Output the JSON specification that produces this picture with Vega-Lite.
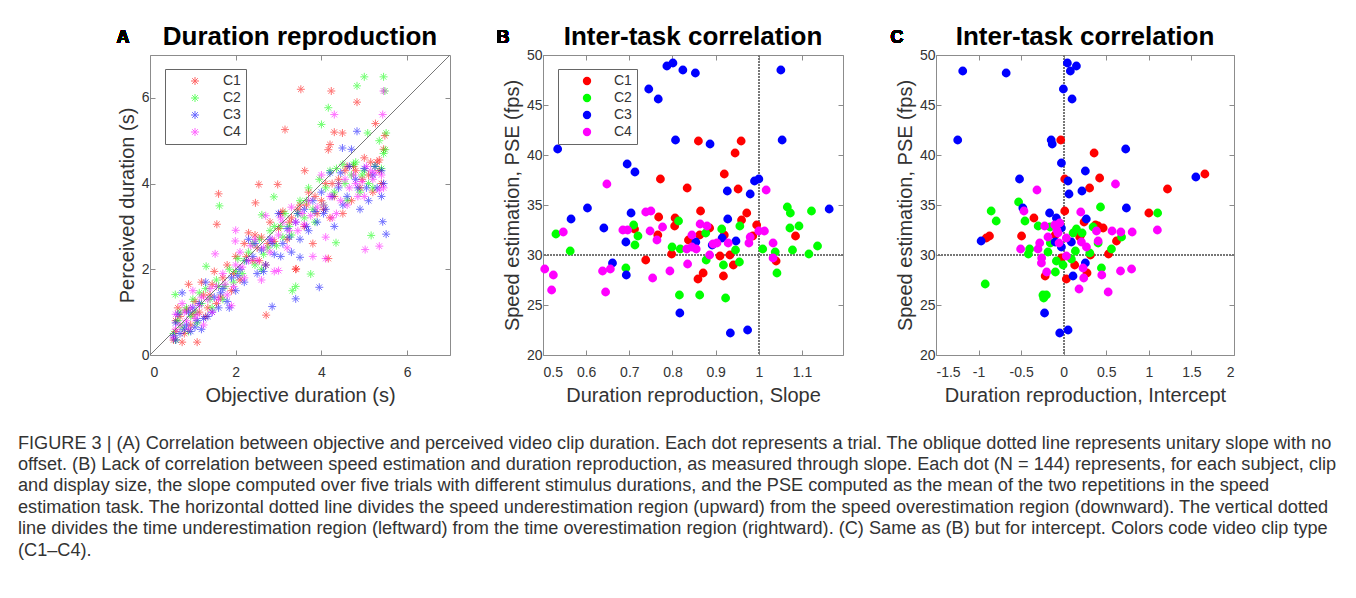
{
"$schema": "https://vega.github.io/schema/vega-lite/v6.json",
"padding": {"left": 18, "top": 23, "right": 5, "bottom": 5},
"background": "white",
"title": {
  "text": [
    "FIGURE 3 | (A) Correlation between objective and perceived video clip duration. Each dot represents a trial. The oblique dotted line represents unitary slope with no",
    "offset. (B) Lack of correlation between speed estimation and duration reproduction, as measured through slope. Each dot (N = 144) represents, for each subject, clip",
    "and display size, the slope computed over five trials with different stimulus durations, and the PSE computed as the mean of the two repetitions in the speed",
    "estimation task. The horizontal dotted line divides the speed underestimation region (upward) from the speed overestimation region (downward). The vertical dotted",
    "line divides the time underestimation region (leftward) from the time overestimation region (rightward). (C) Same as (B) but for intercept. Colors code video clip type",
    "(C1–C4)."
  ],
  "orient": "bottom", "anchor": "start", "frame": "bounds", "dx": -98, "offset": 29,
  "fontSize": 18.15, "fontWeight": "normal", "font": "Liberation Sans", "color": "#333333",
  "lineHeight": 21.4, "baseline": "top"
},
"datasets": {
  "dur": [
    {"clip":"C1","obj":0.55,"perc":0.35},{"clip":"C1","obj":0.6,"perc":0.55},{"clip":"C1","obj":0.7,"perc":0.9},{"clip":"C1","obj":0.75,"perc":0.3},{"clip":"C1","obj":0.85,"perc":1.05},{"clip":"C1","obj":0.9,"perc":1.65},{"clip":"C1","obj":0.95,"perc":0.7},{"clip":"C1","obj":1.05,"perc":1.25},{"clip":"C1","obj":1.1,"perc":0.3},{"clip":"C1","obj":1.15,"perc":1.0},{"clip":"C1","obj":1.2,"perc":1.7},{"clip":"C1","obj":1.3,"perc":0.9},{"clip":"C1","obj":1.4,"perc":1.4},{"clip":"C1","obj":1.5,"perc":1.95},{"clip":"C1","obj":1.55,"perc":1.2},{"clip":"C1","obj":1.65,"perc":1.35},{"clip":"C1","obj":1.8,"perc":2.1},{"clip":"C1","obj":1.9,"perc":1.5},{"clip":"C1","obj":2.0,"perc":2.3},{"clip":"C1","obj":2.1,"perc":1.75},{"clip":"C1","obj":2.2,"perc":2.6},{"clip":"C1","obj":2.3,"perc":2.85},{"clip":"C1","obj":2.4,"perc":2.2},{"clip":"C1","obj":2.5,"perc":2.5},{"clip":"C1","obj":2.6,"perc":2.75},{"clip":"C1","obj":2.7,"perc":2.1},{"clip":"C1","obj":2.8,"perc":3.1},{"clip":"C1","obj":2.9,"perc":2.65},{"clip":"C1","obj":3.0,"perc":2.95},{"clip":"C1","obj":3.1,"perc":3.35},{"clip":"C1","obj":3.2,"perc":2.7},{"clip":"C1","obj":3.3,"perc":3.2},{"clip":"C1","obj":3.4,"perc":2.0},{"clip":"C1","obj":3.5,"perc":3.5},{"clip":"C1","obj":3.6,"perc":3.0},{"clip":"C1","obj":3.7,"perc":3.8},{"clip":"C1","obj":3.8,"perc":2.6},{"clip":"C1","obj":3.9,"perc":3.3},{"clip":"C1","obj":4.0,"perc":3.6},{"clip":"C1","obj":4.1,"perc":4.0},{"clip":"C1","obj":4.2,"perc":3.2},{"clip":"C1","obj":4.3,"perc":3.7},{"clip":"C1","obj":4.4,"perc":4.1},{"clip":"C1","obj":4.5,"perc":3.3},{"clip":"C1","obj":4.6,"perc":4.4},{"clip":"C1","obj":4.7,"perc":3.6},{"clip":"C1","obj":4.8,"perc":4.3},{"clip":"C1","obj":4.9,"perc":3.9},{"clip":"C1","obj":5.0,"perc":4.6},{"clip":"C1","obj":5.1,"perc":4.2},{"clip":"C1","obj":5.2,"perc":3.8},{"clip":"C1","obj":5.3,"perc":4.5},{"clip":"C1","obj":5.4,"perc":4.0},
    {"clip":"C1","obj":0.6,"perc":0.8},{"clip":"C1","obj":0.65,"perc":1.1},{"clip":"C1","obj":0.8,"perc":0.5},{"clip":"C1","obj":1.0,"perc":0.95},{"clip":"C1","obj":1.25,"perc":1.4},{"clip":"C1","obj":1.35,"perc":1.1},{"clip":"C1","obj":1.45,"perc":1.65},{"clip":"C1","obj":1.7,"perc":1.8},{"clip":"C1","obj":1.95,"perc":1.9},{"clip":"C1","obj":2.25,"perc":2.3},{"clip":"C1","obj":2.45,"perc":2.8},{"clip":"C1","obj":2.55,"perc":2.2},{"clip":"C1","obj":2.75,"perc":2.6},{"clip":"C1","obj":3.05,"perc":3.3},{"clip":"C1","obj":3.25,"perc":3.1},{"clip":"C1","obj":3.45,"perc":3.4},{"clip":"C1","obj":3.65,"perc":3.5},{"clip":"C1","obj":3.85,"perc":3.7},{"clip":"C1","obj":4.05,"perc":3.4},{"clip":"C1","obj":4.25,"perc":4.0},{"clip":"C1","obj":4.55,"perc":4.3},{"clip":"C1","obj":4.75,"perc":4.4},{"clip":"C1","obj":4.95,"perc":4.1},{"clip":"C1","obj":5.15,"perc":4.5},{"clip":"C1","obj":5.35,"perc":4.3},{"clip":"C1","obj":5.45,"perc":4.8},
    {"clip":"C1","obj":3.52,"perc":6.2},{"clip":"C1","obj":4.23,"perc":6.16},{"clip":"C1","obj":4.83,"perc":5.9},{"clip":"C1","obj":3.15,"perc":5.26},{"clip":"C1","obj":4.3,"perc":5.2},{"clip":"C1","obj":4.49,"perc":5.18},{"clip":"C1","obj":4.16,"perc":4.79},{"clip":"C1","obj":4.2,"perc":4.91},{"clip":"C1","obj":1.6,"perc":3.76},{"clip":"C1","obj":1.56,"perc":3.05},{"clip":"C1","obj":2.54,"perc":3.98},{"clip":"C1","obj":2.98,"perc":3.98},{"clip":"C1","obj":2.46,"perc":3.55},{"clip":"C1","obj":3.61,"perc":4.3},{"clip":"C1","obj":3.41,"perc":2.01},{"clip":"C1","obj":4.16,"perc":2.25},{"clip":"C1","obj":2.71,"perc":0.93},{"clip":"C1","obj":5.26,"perc":5.4},{"clip":"C1","obj":5.48,"perc":5.12},{"clip":"C1","obj":5.35,"perc":4.55},
    {"clip":"C2","obj":0.55,"perc":0.5},{"clip":"C2","obj":0.65,"perc":0.8},{"clip":"C2","obj":0.75,"perc":0.65},{"clip":"C2","obj":0.85,"perc":1.1},{"clip":"C2","obj":0.95,"perc":0.9},{"clip":"C2","obj":1.0,"perc":1.3},{"clip":"C2","obj":1.1,"perc":0.75},{"clip":"C2","obj":1.2,"perc":1.2},{"clip":"C2","obj":1.3,"perc":1.55},{"clip":"C2","obj":1.45,"perc":1.1},{"clip":"C2","obj":1.6,"perc":1.6},{"clip":"C2","obj":1.7,"perc":1.3},{"clip":"C2","obj":1.85,"perc":2.0},{"clip":"C2","obj":1.95,"perc":1.7},{"clip":"C2","obj":2.05,"perc":2.25},{"clip":"C2","obj":2.15,"perc":1.9},{"clip":"C2","obj":2.3,"perc":2.4},{"clip":"C2","obj":2.45,"perc":2.1},{"clip":"C2","obj":2.55,"perc":2.7},{"clip":"C2","obj":2.65,"perc":2.35},{"clip":"C2","obj":2.8,"perc":2.9},{"clip":"C2","obj":2.95,"perc":2.55},{"clip":"C2","obj":3.05,"perc":3.0},{"clip":"C2","obj":3.15,"perc":3.3},{"clip":"C2","obj":3.3,"perc":2.8},{"clip":"C2","obj":3.4,"perc":1.6},{"clip":"C2","obj":3.5,"perc":3.6},{"clip":"C2","obj":3.6,"perc":3.2},{"clip":"C2","obj":3.7,"perc":3.9},{"clip":"C2","obj":3.8,"perc":3.4},{"clip":"C2","obj":3.95,"perc":4.1},{"clip":"C2","obj":4.05,"perc":3.5},{"clip":"C2","obj":4.2,"perc":4.3},{"clip":"C2","obj":4.3,"perc":3.8},{"clip":"C2","obj":4.4,"perc":4.0},{"clip":"C2","obj":4.5,"perc":4.45},{"clip":"C2","obj":4.6,"perc":3.6},{"clip":"C2","obj":4.7,"perc":4.2},{"clip":"C2","obj":4.8,"perc":4.5},{"clip":"C2","obj":4.9,"perc":3.8},{"clip":"C2","obj":5.0,"perc":4.3},{"clip":"C2","obj":5.1,"perc":4.0},{"clip":"C2","obj":5.25,"perc":4.4},{"clip":"C2","obj":5.35,"perc":5.0},{"clip":"C2","obj":5.45,"perc":4.7},
    {"clip":"C2","obj":0.6,"perc":0.35},{"clip":"C2","obj":0.7,"perc":1.0},{"clip":"C2","obj":0.9,"perc":0.55},{"clip":"C2","obj":1.05,"perc":1.0},{"clip":"C2","obj":1.15,"perc":1.45},{"clip":"C2","obj":1.4,"perc":1.3},{"clip":"C2","obj":1.55,"perc":1.75},{"clip":"C2","obj":1.75,"perc":1.6},{"clip":"C2","obj":2.0,"perc":1.95},{"clip":"C2","obj":2.2,"perc":2.2},{"clip":"C2","obj":2.4,"perc":2.6},{"clip":"C2","obj":2.6,"perc":2.0},{"clip":"C2","obj":2.75,"perc":2.5},{"clip":"C2","obj":2.9,"perc":3.0},{"clip":"C2","obj":3.1,"perc":2.75},{"clip":"C2","obj":3.25,"perc":3.0},{"clip":"C2","obj":3.45,"perc":3.3},{"clip":"C2","obj":3.65,"perc":3.6},{"clip":"C2","obj":3.85,"perc":3.1},{"clip":"C2","obj":4.1,"perc":3.9},{"clip":"C2","obj":4.35,"perc":4.35},{"clip":"C2","obj":4.55,"perc":4.0},{"clip":"C2","obj":4.75,"perc":4.45},{"clip":"C2","obj":4.95,"perc":4.2},{"clip":"C2","obj":5.2,"perc":3.9},{"clip":"C2","obj":5.4,"perc":4.35},
    {"clip":"C2","obj":5.0,"perc":6.49},{"clip":"C2","obj":5.45,"perc":6.49},{"clip":"C2","obj":4.83,"perc":6.28},{"clip":"C2","obj":5.48,"perc":6.16},{"clip":"C2","obj":4.16,"perc":5.77},{"clip":"C2","obj":4.0,"perc":5.38},{"clip":"C2","obj":1.62,"perc":3.48},{"clip":"C2","obj":1.31,"perc":2.07},{"clip":"C2","obj":0.59,"perc":1.41},{"clip":"C2","obj":2.89,"perc":3.69},{"clip":"C2","obj":2.61,"perc":3.27},{"clip":"C2","obj":3.75,"perc":1.89},{"clip":"C2","obj":3.32,"perc":1.5},{"clip":"C2","obj":5.16,"perc":2.79},{"clip":"C2","obj":5.49,"perc":4.79},{"clip":"C2","obj":5.51,"perc":5.18},{"clip":"C2","obj":5.08,"perc":5.18},{"clip":"C2","obj":4.34,"perc":2.62},
    {"clip":"C3","obj":0.55,"perc":0.45},{"clip":"C3","obj":0.6,"perc":0.75},{"clip":"C3","obj":0.7,"perc":0.5},{"clip":"C3","obj":0.75,"perc":1.45},{"clip":"C3","obj":0.85,"perc":0.7},{"clip":"C3","obj":0.95,"perc":0.55},{"clip":"C3","obj":1.0,"perc":1.1},{"clip":"C3","obj":1.1,"perc":0.8},{"clip":"C3","obj":1.2,"perc":0.6},{"clip":"C3","obj":1.3,"perc":1.7},{"clip":"C3","obj":1.35,"perc":0.9},{"clip":"C3","obj":1.5,"perc":1.35},{"clip":"C3","obj":1.6,"perc":1.1},{"clip":"C3","obj":1.7,"perc":1.55},{"clip":"C3","obj":1.8,"perc":1.25},{"clip":"C3","obj":1.9,"perc":1.8},{"clip":"C3","obj":2.0,"perc":1.5},{"clip":"C3","obj":2.1,"perc":2.0},{"clip":"C3","obj":2.2,"perc":1.7},{"clip":"C3","obj":2.3,"perc":2.7},{"clip":"C3","obj":2.4,"perc":2.3},{"clip":"C3","obj":2.5,"perc":1.9},{"clip":"C3","obj":2.6,"perc":2.45},{"clip":"C3","obj":2.7,"perc":2.1},{"clip":"C3","obj":2.8,"perc":2.7},{"clip":"C3","obj":2.9,"perc":2.35},{"clip":"C3","obj":3.0,"perc":3.3},{"clip":"C3","obj":3.1,"perc":2.6},{"clip":"C3","obj":3.2,"perc":2.95},{"clip":"C3","obj":3.3,"perc":2.4},{"clip":"C3","obj":3.4,"perc":3.1},{"clip":"C3","obj":3.5,"perc":2.7},{"clip":"C3","obj":3.6,"perc":3.4},{"clip":"C3","obj":3.7,"perc":2.9},{"clip":"C3","obj":3.8,"perc":3.6},{"clip":"C3","obj":3.9,"perc":3.1},{"clip":"C3","obj":4.0,"perc":3.8},{"clip":"C3","obj":4.1,"perc":3.4},{"clip":"C3","obj":4.2,"perc":4.25},{"clip":"C3","obj":4.3,"perc":3.0},{"clip":"C3","obj":4.4,"perc":3.9},{"clip":"C3","obj":4.5,"perc":3.5},{"clip":"C3","obj":4.6,"perc":3.7},{"clip":"C3","obj":4.7,"perc":4.8},{"clip":"C3","obj":4.8,"perc":4.1},{"clip":"C3","obj":4.9,"perc":3.4},{"clip":"C3","obj":5.0,"perc":4.35},{"clip":"C3","obj":5.1,"perc":3.6},{"clip":"C3","obj":5.2,"perc":4.2},{"clip":"C3","obj":5.3,"perc":3.9},{"clip":"C3","obj":5.4,"perc":4.3},{"clip":"C3","obj":5.45,"perc":4.0},
    {"clip":"C3","obj":0.6,"perc":0.35},{"clip":"C3","obj":0.65,"perc":0.95},{"clip":"C3","obj":0.8,"perc":0.6},{"clip":"C3","obj":0.9,"perc":1.0},{"clip":"C3","obj":1.05,"perc":0.65},{"clip":"C3","obj":1.15,"perc":1.2},{"clip":"C3","obj":1.25,"perc":0.85},{"clip":"C3","obj":1.45,"perc":1.0},{"clip":"C3","obj":1.65,"perc":1.45},{"clip":"C3","obj":1.85,"perc":1.1},{"clip":"C3","obj":2.05,"perc":1.85},{"clip":"C3","obj":2.25,"perc":2.2},{"clip":"C3","obj":2.45,"perc":2.6},{"clip":"C3","obj":2.65,"perc":1.95},{"clip":"C3","obj":2.85,"perc":2.6},{"clip":"C3","obj":3.05,"perc":2.3},{"clip":"C3","obj":3.25,"perc":2.75},{"clip":"C3","obj":3.45,"perc":3.3},{"clip":"C3","obj":3.65,"perc":3.0},{"clip":"C3","obj":3.85,"perc":3.35},{"clip":"C3","obj":4.05,"perc":3.3},{"clip":"C3","obj":4.25,"perc":3.7},{"clip":"C3","obj":4.45,"perc":4.25},{"clip":"C3","obj":4.65,"perc":4.4},{"clip":"C3","obj":4.85,"perc":3.9},{"clip":"C3","obj":5.05,"perc":3.9},{"clip":"C3","obj":5.25,"perc":4.4},{"clip":"C3","obj":5.4,"perc":3.7},
    {"clip":"C3","obj":3.95,"perc":1.58},{"clip":"C3","obj":3.4,"perc":1.31},{"clip":"C3","obj":2.85,"perc":1.13},{"clip":"C3","obj":5.43,"perc":3.11},{"clip":"C3","obj":5.51,"perc":2.82},{"clip":"C3","obj":4.83,"perc":5.22},{"clip":"C3","obj":4.49,"perc":4.83},{"clip":"C3","obj":3.5,"perc":2.28},
    {"clip":"C4","obj":0.55,"perc":0.4},{"clip":"C4","obj":0.6,"perc":0.95},{"clip":"C4","obj":0.7,"perc":0.7},{"clip":"C4","obj":0.8,"perc":1.0},{"clip":"C4","obj":0.9,"perc":0.6},{"clip":"C4","obj":1.0,"perc":1.5},{"clip":"C4","obj":1.05,"perc":0.85},{"clip":"C4","obj":1.15,"perc":1.15},{"clip":"C4","obj":1.25,"perc":0.7},{"clip":"C4","obj":1.35,"perc":1.3},{"clip":"C4","obj":1.45,"perc":1.0},{"clip":"C4","obj":1.55,"perc":1.6},{"clip":"C4","obj":1.7,"perc":1.9},{"clip":"C4","obj":1.8,"perc":1.4},{"clip":"C4","obj":1.9,"perc":1.15},{"clip":"C4","obj":2.0,"perc":2.1},{"clip":"C4","obj":2.1,"perc":2.4},{"clip":"C4","obj":2.2,"perc":1.8},{"clip":"C4","obj":2.35,"perc":2.55},{"clip":"C4","obj":2.5,"perc":2.2},{"clip":"C4","obj":2.6,"perc":1.75},{"clip":"C4","obj":2.7,"perc":3.25},{"clip":"C4","obj":2.8,"perc":2.4},{"clip":"C4","obj":2.9,"perc":1.95},{"clip":"C4","obj":3.0,"perc":2.8},{"clip":"C4","obj":3.1,"perc":3.1},{"clip":"C4","obj":3.2,"perc":2.5},{"clip":"C4","obj":3.3,"perc":3.45},{"clip":"C4","obj":3.45,"perc":2.9},{"clip":"C4","obj":3.55,"perc":3.3},{"clip":"C4","obj":3.7,"perc":3.6},{"clip":"C4","obj":3.8,"perc":2.3},{"clip":"C4","obj":3.9,"perc":3.45},{"clip":"C4","obj":4.0,"perc":4.2},{"clip":"C4","obj":4.1,"perc":2.75},{"clip":"C4","obj":4.2,"perc":3.7},{"clip":"C4","obj":4.35,"perc":3.3},{"clip":"C4","obj":4.45,"perc":3.6},{"clip":"C4","obj":4.55,"perc":4.1},{"clip":"C4","obj":4.65,"perc":3.9},{"clip":"C4","obj":4.75,"perc":4.2},{"clip":"C4","obj":4.85,"perc":3.7},{"clip":"C4","obj":4.95,"perc":4.05},{"clip":"C4","obj":5.05,"perc":4.4},{"clip":"C4","obj":5.15,"perc":4.3},{"clip":"C4","obj":5.25,"perc":4.25},{"clip":"C4","obj":5.35,"perc":3.85},{"clip":"C4","obj":5.45,"perc":3.9},
    {"clip":"C4","obj":0.6,"perc":0.6},{"clip":"C4","obj":0.75,"perc":1.2},{"clip":"C4","obj":0.85,"perc":0.8},{"clip":"C4","obj":0.95,"perc":1.1},{"clip":"C4","obj":1.1,"perc":0.95},{"clip":"C4","obj":1.2,"perc":1.35},{"clip":"C4","obj":1.4,"perc":1.55},{"clip":"C4","obj":1.6,"perc":1.3},{"clip":"C4","obj":1.75,"perc":1.65},{"clip":"C4","obj":1.95,"perc":1.6},{"clip":"C4","obj":2.15,"perc":2.05},{"clip":"C4","obj":2.3,"perc":2.2},{"clip":"C4","obj":2.45,"perc":2.7},{"clip":"C4","obj":2.65,"perc":2.5},{"clip":"C4","obj":2.85,"perc":2.7},{"clip":"C4","obj":3.05,"perc":3.2},{"clip":"C4","obj":3.25,"perc":2.9},{"clip":"C4","obj":3.4,"perc":3.1},{"clip":"C4","obj":3.6,"perc":3.05},{"clip":"C4","obj":3.75,"perc":3.25},{"clip":"C4","obj":4.05,"perc":3.5},{"clip":"C4","obj":4.25,"perc":3.2},{"clip":"C4","obj":4.4,"perc":4.0},{"clip":"C4","obj":4.6,"perc":3.5},{"clip":"C4","obj":4.8,"perc":4.0},{"clip":"C4","obj":5.0,"perc":3.7},{"clip":"C4","obj":5.2,"perc":4.1},{"clip":"C4","obj":5.4,"perc":4.2},
    {"clip":"C4","obj":5.43,"perc":5.61},{"clip":"C4","obj":4.3,"perc":5.61},{"clip":"C4","obj":5.45,"perc":6.16},{"clip":"C4","obj":5.35,"perc":2.54},{"clip":"C4","obj":5.02,"perc":2.46},{"clip":"C4","obj":4.1,"perc":2.25},{"clip":"C4","obj":1.52,"perc":2.36},{"clip":"C4","obj":2.0,"perc":2.91},{"clip":"C4","obj":1.99,"perc":2.66},{"clip":"C4","obj":3.0,"perc":1.97}
  ],
  "slope": [
    {"clip":"C1","slope":0.860,"pse":41.4},{"clip":"C1","slope":0.959,"pse":41.4},{"clip":"C1","slope":0.945,"pse":40.2},{"clip":"C1","slope":0.920,"pse":38.1},{"clip":"C1","slope":0.772,"pse":37.6},{"clip":"C1","slope":0.834,"pse":36.7},{"clip":"C1","slope":0.952,"pse":36.6},{"clip":"C1","slope":0.865,"pse":34.4},{"clip":"C1","slope":0.972,"pse":34.2},{"clip":"C1","slope":0.768,"pse":33.8},{"clip":"C1","slope":0.806,"pse":33.7},{"clip":"C1","slope":0.805,"pse":32.9},{"clip":"C1","slope":0.960,"pse":33.5},{"clip":"C1","slope":0.995,"pse":33.0},{"clip":"C1","slope":0.766,"pse":32.0},{"clip":"C1","slope":0.837,"pse":31.5},{"clip":"C1","slope":0.863,"pse":32.0},{"clip":"C1","slope":0.886,"pse":32.7},{"clip":"C1","slope":0.986,"pse":31.9},{"clip":"C1","slope":1.085,"pse":31.9},{"clip":"C1","slope":0.738,"pse":29.5},{"clip":"C1","slope":0.798,"pse":30.1},{"clip":"C1","slope":0.910,"pse":29.9},{"clip":"C1","slope":0.933,"pse":30.0},{"clip":"C1","slope":0.941,"pse":29.0},{"clip":"C1","slope":0.918,"pse":27.9},{"clip":"C1","slope":0.871,"pse":28.2},{"clip":"C1","slope":0.859,"pse":27.6},{"clip":"C1","slope":1.040,"pse":29.4},{"clip":"C1","slope":0.712,"pse":32.6},{"clip":"C1","slope":0.920,"pse":32.0},
    {"clip":"C2","slope":0.530,"pse":32.1},{"clip":"C2","slope":0.563,"pse":30.4},{"clip":"C2","slope":0.710,"pse":33.0},{"clip":"C2","slope":0.720,"pse":31.9},{"clip":"C2","slope":0.713,"pse":31.0},{"clip":"C2","slope":0.692,"pse":28.7},{"clip":"C2","slope":0.814,"pse":33.4},{"clip":"C2","slope":0.799,"pse":30.8},{"clip":"C2","slope":0.818,"pse":30.6},{"clip":"C2","slope":0.877,"pse":32.2},{"clip":"C2","slope":0.878,"pse":29.5},{"clip":"C2","slope":0.816,"pse":26.0},{"clip":"C2","slope":0.863,"pse":26.0},{"clip":"C2","slope":0.923,"pse":25.7},{"clip":"C2","slope":0.914,"pse":32.6},{"clip":"C2","slope":0.918,"pse":29.0},{"clip":"C2","slope":0.946,"pse":30.5},{"clip":"C2","slope":0.955,"pse":29.3},{"clip":"C2","slope":0.956,"pse":32.9},{"clip":"C2","slope":1.066,"pse":34.8},{"clip":"C2","slope":1.073,"pse":34.2},{"clip":"C2","slope":1.072,"pse":32.7},{"clip":"C2","slope":1.093,"pse":32.9},{"clip":"C2","slope":1.122,"pse":34.4},{"clip":"C2","slope":1.078,"pse":30.5},{"clip":"C2","slope":1.136,"pse":30.9},{"clip":"C2","slope":1.116,"pse":30.1},{"clip":"C2","slope":1.009,"pse":30.6},{"clip":"C2","slope":1.038,"pse":30.3},{"clip":"C2","slope":1.042,"pse":28.2},
    {"clip":"C3","slope":0.534,"pse":40.6},{"clip":"C3","slope":0.787,"pse":48.9},{"clip":"C3","slope":0.801,"pse":49.2},{"clip":"C3","slope":0.824,"pse":48.5},{"clip":"C3","slope":0.853,"pse":48.2},{"clip":"C3","slope":0.745,"pse":46.6},{"clip":"C3","slope":0.767,"pse":45.6},{"clip":"C3","slope":0.807,"pse":41.5},{"clip":"C3","slope":0.887,"pse":41.1},{"clip":"C3","slope":1.051,"pse":48.5},{"clip":"C3","slope":1.054,"pse":41.5},{"clip":"C3","slope":0.695,"pse":39.1},{"clip":"C3","slope":0.713,"pse":38.3},{"clip":"C3","slope":0.927,"pse":36.4},{"clip":"C3","slope":0.980,"pse":36.1},{"clip":"C3","slope":0.990,"pse":37.4},{"clip":"C3","slope":1.0,"pse":37.6},{"clip":"C3","slope":0.603,"pse":34.7},{"clip":"C3","slope":0.565,"pse":33.6},{"clip":"C3","slope":0.704,"pse":34.2},{"clip":"C3","slope":0.641,"pse":32.7},{"clip":"C3","slope":0.692,"pse":31.3},{"clip":"C3","slope":0.661,"pse":29.2},{"clip":"C3","slope":0.693,"pse":28.0},{"clip":"C3","slope":0.928,"pse":33.6},{"clip":"C3","slope":0.854,"pse":31.3},{"clip":"C3","slope":0.915,"pse":31.7},{"clip":"C3","slope":0.947,"pse":31.4},{"clip":"C3","slope":0.892,"pse":31.0},{"clip":"C3","slope":0.817,"pse":24.2},{"clip":"C3","slope":0.934,"pse":22.2},{"clip":"C3","slope":0.974,"pse":22.5},{"clip":"C3","slope":1.163,"pse":34.6},
    {"clip":"C4","slope":0.504,"pse":28.6},{"clip":"C4","slope":0.524,"pse":28.0},{"clip":"C4","slope":0.520,"pse":26.5},{"clip":"C4","slope":0.547,"pse":32.3},{"clip":"C4","slope":0.648,"pse":37.1},{"clip":"C4","slope":0.638,"pse":28.4},{"clip":"C4","slope":0.656,"pse":28.6},{"clip":"C4","slope":0.645,"pse":26.3},{"clip":"C4","slope":0.685,"pse":32.5},{"clip":"C4","slope":0.696,"pse":32.5},{"clip":"C4","slope":0.738,"pse":34.3},{"clip":"C4","slope":0.750,"pse":34.4},{"clip":"C4","slope":0.748,"pse":32.4},{"clip":"C4","slope":0.764,"pse":31.5},{"clip":"C4","slope":0.777,"pse":32.8},{"clip":"C4","slope":0.754,"pse":27.7},{"clip":"C4","slope":0.794,"pse":28.4},{"clip":"C4","slope":0.835,"pse":29.1},{"clip":"C4","slope":0.845,"pse":32.0},{"clip":"C4","slope":0.833,"pse":30.6},{"clip":"C4","slope":0.855,"pse":30.6},{"clip":"C4","slope":0.864,"pse":33.1},{"clip":"C4","slope":0.880,"pse":32.9},{"clip":"C4","slope":0.886,"pse":30.0},{"clip":"C4","slope":0.894,"pse":31.1},{"clip":"C4","slope":0.903,"pse":31.2},{"clip":"C4","slope":0.929,"pse":31.2},{"clip":"C4","slope":0.980,"pse":31.8},{"clip":"C4","slope":0.977,"pse":31.2},{"clip":"C4","slope":1.000,"pse":32.4},{"clip":"C4","slope":1.013,"pse":32.4},{"clip":"C4","slope":1.017,"pse":36.5},{"clip":"C4","slope":1.033,"pse":31.2},{"clip":"C4","slope":1.033,"pse":29.7},{"clip":"C4","slope":0.845,"pse":30.8}
  ],
  "intercept": [
    {"clip":"C1","intercept":-0.035,"pse":41.5},{"clip":"C1","intercept":0.357,"pse":40.2},{"clip":"C1","intercept":0.422,"pse":37.7},{"clip":"C1","intercept":0.304,"pse":36.7},{"clip":"C1","intercept":0.012,"pse":37.6},{"clip":"C1","intercept":1.219,"pse":36.6},{"clip":"C1","intercept":1.658,"pse":38.1},{"clip":"C1","intercept":1.0,"pse":34.2},{"clip":"C1","intercept":0.012,"pse":34.4},{"clip":"C1","intercept":-0.35,"pse":33.7},{"clip":"C1","intercept":0.404,"pse":32.9},{"clip":"C1","intercept":0.239,"pse":33.3},{"clip":"C1","intercept":0.373,"pse":33.0},{"clip":"C1","intercept":0.2,"pse":32.0},{"clip":"C1","intercept":-0.495,"pse":31.9},{"clip":"C1","intercept":-0.872,"pse":31.9},{"clip":"C1","intercept":-0.91,"pse":31.7},{"clip":"C1","intercept":0.62,"pse":31.4},{"clip":"C1","intercept":0.526,"pse":30.1},{"clip":"C1","intercept":0.314,"pse":30.0},{"clip":"C1","intercept":0.129,"pse":29.0},{"clip":"C1","intercept":-0.218,"pse":27.9},{"clip":"C1","intercept":0.031,"pse":27.6},{"clip":"C1","intercept":0.274,"pse":28.2},{"clip":"C1","intercept":-0.027,"pse":29.7},{"clip":"C1","intercept":0.188,"pse":31.8},{"clip":"C1","intercept":0.463,"pse":32.7},{"clip":"C1","intercept":-0.1,"pse":32.0},
    {"clip":"C2","intercept":-0.53,"pse":35.3},{"clip":"C2","intercept":-0.852,"pse":34.4},{"clip":"C2","intercept":-0.793,"pse":33.4},{"clip":"C2","intercept":-0.455,"pse":33.4},{"clip":"C2","intercept":-0.30,"pse":32.9},{"clip":"C2","intercept":-0.922,"pse":27.1},{"clip":"C2","intercept":-0.40,"pse":30.6},{"clip":"C2","intercept":-0.415,"pse":30.1},{"clip":"C2","intercept":-0.244,"pse":26.0},{"clip":"C2","intercept":-0.204,"pse":26.0},{"clip":"C2","intercept":-0.235,"pse":25.7},{"clip":"C2","intercept":-0.098,"pse":28.3},{"clip":"C2","intercept":-0.086,"pse":29.4},{"clip":"C2","intercept":-0.008,"pse":29.0},{"clip":"C2","intercept":0.09,"pse":29.6},{"clip":"C2","intercept":0.11,"pse":32.2},{"clip":"C2","intercept":0.149,"pse":32.6},{"clip":"C2","intercept":0.345,"pse":32.8},{"clip":"C2","intercept":0.306,"pse":30.2},{"clip":"C2","intercept":0.404,"pse":31.2},{"clip":"C2","intercept":0.432,"pse":34.8},{"clip":"C2","intercept":0.443,"pse":28.7},{"clip":"C2","intercept":0.561,"pse":30.6},{"clip":"C2","intercept":0.679,"pse":31.8},{"clip":"C2","intercept":1.103,"pse":34.2},{"clip":"C2","intercept":-0.185,"pse":30.3},{"clip":"C2","intercept":-0.157,"pse":31.2},{"clip":"C2","intercept":0.137,"pse":30.4},{"clip":"C2","intercept":0.216,"pse":32.2},{"clip":"C2","intercept":-0.16,"pse":32.8},
    {"clip":"C3","intercept":-1.186,"pse":48.4},{"clip":"C3","intercept":-0.676,"pse":48.2},{"clip":"C3","intercept":-1.245,"pse":41.5},{"clip":"C3","intercept":0.043,"pse":49.2},{"clip":"C3","intercept":0.078,"pse":48.4},{"clip":"C3","intercept":0.149,"pse":48.9},{"clip":"C3","intercept":-0.004,"pse":46.6},{"clip":"C3","intercept":0.098,"pse":45.6},{"clip":"C3","intercept":-0.147,"pse":41.5},{"clip":"C3","intercept":-0.135,"pse":41.1},{"clip":"C3","intercept":-0.027,"pse":39.2},{"clip":"C3","intercept":-0.519,"pse":37.6},{"clip":"C3","intercept":0.254,"pse":38.4},{"clip":"C3","intercept":0.05,"pse":37.4},{"clip":"C3","intercept":0.062,"pse":36.1},{"clip":"C3","intercept":0.214,"pse":36.4},{"clip":"C3","intercept":0.728,"pse":40.6},{"clip":"C3","intercept":1.552,"pse":37.8},{"clip":"C3","intercept":0.736,"pse":34.7},{"clip":"C3","intercept":-0.48,"pse":34.7},{"clip":"C3","intercept":-0.166,"pse":34.2},{"clip":"C3","intercept":-0.086,"pse":33.7},{"clip":"C3","intercept":0.265,"pse":33.6},{"clip":"C3","intercept":-0.027,"pse":32.7},{"clip":"C3","intercept":-0.97,"pse":31.4},{"clip":"C3","intercept":-0.10,"pse":31.3},{"clip":"C3","intercept":0.09,"pse":31.3},{"clip":"C3","intercept":-0.027,"pse":30.8},{"clip":"C3","intercept":0.254,"pse":29.2},{"clip":"C3","intercept":0.109,"pse":27.9},{"clip":"C3","intercept":-0.225,"pse":24.2},{"clip":"C3","intercept":-0.047,"pse":22.2},{"clip":"C3","intercept":0.051,"pse":22.5},
    {"clip":"C4","intercept":-0.314,"pse":36.5},{"clip":"C4","intercept":-0.467,"pse":34.4},{"clip":"C4","intercept":0.2,"pse":34.3},{"clip":"C4","intercept":-0.224,"pse":32.9},{"clip":"C4","intercept":-0.106,"pse":33.0},{"clip":"C4","intercept":-0.067,"pse":32.2},{"clip":"C4","intercept":-0.185,"pse":31.8},{"clip":"C4","intercept":-0.282,"pse":31.2},{"clip":"C4","intercept":-0.302,"pse":30.6},{"clip":"C4","intercept":-0.506,"pse":30.6},{"clip":"C4","intercept":-0.259,"pse":29.7},{"clip":"C4","intercept":-0.262,"pse":29.2},{"clip":"C4","intercept":-0.2,"pse":28.3},{"clip":"C4","intercept":-0.055,"pse":31.2},{"clip":"C4","intercept":0.031,"pse":31.7},{"clip":"C4","intercept":0.031,"pse":29.9},{"clip":"C4","intercept":0.208,"pse":31.3},{"clip":"C4","intercept":0.267,"pse":30.8},{"clip":"C4","intercept":0.227,"pse":28.7},{"clip":"C4","intercept":0.235,"pse":27.7},{"clip":"C4","intercept":0.18,"pse":26.6},{"clip":"C4","intercept":0.385,"pse":32.4},{"clip":"C4","intercept":0.404,"pse":31.4},{"clip":"C4","intercept":0.447,"pse":28.0},{"clip":"C4","intercept":0.522,"pse":26.3},{"clip":"C4","intercept":0.568,"pse":32.4},{"clip":"C4","intercept":0.671,"pse":32.3},{"clip":"C4","intercept":0.804,"pse":32.3},{"clip":"C4","intercept":0.667,"pse":28.4},{"clip":"C4","intercept":0.797,"pse":28.6},{"clip":"C4","intercept":1.10,"pse":32.5},{"clip":"C4","intercept":0.608,"pse":37.1},{"clip":"C4","intercept":-0.047,"pse":33.2},{"clip":"C4","intercept":-0.08,"pse":32.5}
  ]
},
"spacing": 93,
"bounds": "flush",
"hconcat": [
  {
    "width": 300, "height": 300,
    "title": {"text": "Duration reproduction"},
    "data": {"name": "dur"},
    "layer": [
      {
        "mark": {"type": "point", "shape": "M-1,0H1M0,-1V1M-0.7,-0.7L0.7,0.7M-0.7,0.7L0.7,-0.7", "filled": false, "size": 64, "strokeWidth": 1, "opacity": 0.55},
        "encoding": {
          "x": {"field": "obj", "type": "quantitative", "scale": {"domain": [0, 7], "nice": false, "zero": false}, "axis": {"orient": "bottom", "values": [0, 2, 4, 6], "title": "Objective duration (s)"}},
          "y": {"field": "perc", "type": "quantitative", "scale": {"domain": [0, 7], "nice": false, "zero": false}, "axis": {"orient": "left", "values": [0, 2, 4, 6], "title": "Perceived duration (s)"}},
          "color": {"field": "clip", "type": "nominal", "scale": {"domain": ["C1", "C2", "C3", "C4"], "range": ["#ff0000", "#00ff00", "#0000ff", "#ff00ff"]},
            "legend": {"title": null, "orient": "none", "legendX": 15, "legendY": 14, "symbolType": "M-1,0H1M0,-1V1M-0.7,-0.7L0.7,0.7M-0.7,0.7L0.7,-0.7", "symbolSize": 64, "symbolStrokeWidth": 1, "symbolOpacity": 0.6, "symbolOffset": 18, "labelOffset": 21}}
        }
      },
      {
        "mark": {"type": "rule", "color": "#777777", "strokeWidth": 0.8},
        "encoding": {
          "x": {"datum": 0, "scale": {"domain": [0, 7], "nice": false, "zero": false}, "axis": {"orient": "top", "values": [0, 2, 4, 6], "labels": false, "title": null}},
          "y": {"datum": 0, "scale": {"domain": [0, 7], "nice": false, "zero": false}, "axis": {"orient": "right", "values": [0, 2, 4, 6], "labels": false, "title": null}},
          "x2": {"datum": 7},
          "y2": {"datum": 7}
        }
      },
      {
        "mark": {"type": "text", "text": "A", "fontSize": 18, "fontWeight": "bold", "align": "center", "baseline": "middle", "dx": -27, "dy": -17, "color": "#000000"},
        "encoding": {
          "x": {"datum": 0, "scale": {"domain": [0, 7], "nice": false, "zero": false}, "axis": null},
          "y": {"datum": 7, "scale": {"domain": [0, 7], "nice": false, "zero": false}, "axis": null}
        }
      }
    ],
    "resolve": {"axis": {"x": "independent", "y": "independent"}}
  },
  {
    "width": 300, "height": 300,
    "title": {"text": "Inter-task correlation"},
    "data": {"name": "slope"},
    "layer": [
      {
        "mark": {"type": "rule", "color": "#777777", "strokeWidth": 0.8, "strokeDash": [1.5, 1.5]},
        "encoding": {
          "x": {"datum": 1, "scale": {"domain": [0.5, 1.195], "nice": false, "zero": false}, "axis": {"orient": "top", "values": [0.5, 0.6, 0.7, 0.8, 0.9, 1, 1.1], "labels": false, "title": null}}
        }
      },
      {
        "mark": {"type": "rule", "color": "#777777", "strokeWidth": 0.8, "strokeDash": [1.5, 1.5]},
        "encoding": {
          "y": {"datum": 30, "scale": {"domain": [20, 50], "nice": false, "zero": false}, "axis": {"orient": "right", "values": [20, 25, 30, 35, 40, 45, 50], "labels": false, "title": null}}
        }
      },
      {
        "mark": {"type": "circle", "size": 78, "opacity": 1},
        "encoding": {
          "x": {"field": "slope", "type": "quantitative", "scale": {"domain": [0.5, 1.195], "nice": false, "zero": false}, "axis": {"orient": "bottom", "values": [0.5, 0.6, 0.7, 0.8, 0.9, 1, 1.1], "format": "~g", "title": "Duration reproduction, Slope"}},
          "y": {"field": "pse", "type": "quantitative", "scale": {"domain": [20, 50], "nice": false, "zero": false}, "axis": {"orient": "left", "values": [20, 25, 30, 35, 40, 45, 50], "title": "Speed estimation, PSE (fps)"}},
          "color": {"field": "clip", "type": "nominal", "scale": {"domain": ["C1", "C2", "C3", "C4"], "range": ["#ff0000", "#00ff00", "#0000ff", "#ff00ff"]},
            "legend": {"title": null, "orient": "none", "legendX": 15, "legendY": 14, "symbolType": "circle", "symbolSize": 70, "symbolOpacity": 1, "symbolOffset": 17, "labelOffset": 20}}
        }
      },
      {
        "mark": {"type": "text", "text": "B", "fontSize": 18, "fontWeight": "bold", "align": "center", "baseline": "middle", "dx": -40, "dy": -17, "color": "#000000"},
        "encoding": {
          "x": {"datum": 0.5, "scale": {"domain": [0.5, 1.195], "nice": false, "zero": false}, "axis": null},
          "y": {"datum": 50, "scale": {"domain": [20, 50], "nice": false, "zero": false}, "axis": null}
        }
      }
    ],
    "resolve": {"axis": {"x": "independent", "y": "independent"}}
  },
  {
    "width": 298, "height": 300,
    "title": {"text": "Inter-task correlation"},
    "data": {"name": "intercept"},
    "layer": [
      {
        "mark": {"type": "rule", "color": "#777777", "strokeWidth": 0.8, "strokeDash": [1.5, 1.5]},
        "encoding": {
          "x": {"datum": 0, "scale": {"domain": [-1.5, 2], "nice": false, "zero": false}, "axis": {"orient": "top", "values": [-1.5, -1, -0.5, 0, 0.5, 1, 1.5, 2], "labels": false, "title": null}}
        }
      },
      {
        "mark": {"type": "rule", "color": "#777777", "strokeWidth": 0.8, "strokeDash": [1.5, 1.5]},
        "encoding": {
          "y": {"datum": 30, "scale": {"domain": [20, 50], "nice": false, "zero": false}, "axis": {"orient": "right", "values": [20, 25, 30, 35, 40, 45, 50], "labels": false, "title": null}}
        }
      },
      {
        "mark": {"type": "circle", "size": 78, "opacity": 1},
        "encoding": {
          "x": {"field": "intercept", "type": "quantitative", "scale": {"domain": [-1.5, 2], "nice": false, "zero": false}, "axis": {"orient": "bottom", "values": [-1.5, -1, -0.5, 0, 0.5, 1, 1.5, 2], "format": "~g", "labelExpr": "replace(datum.label, '−', '-')", "title": "Duration reproduction, Intercept"}},
          "y": {"field": "pse", "type": "quantitative", "scale": {"domain": [20, 50], "nice": false, "zero": false}, "axis": {"orient": "left", "values": [20, 25, 30, 35, 40, 45, 50], "title": "Speed estimation, PSE (fps)"}},
          "color": {"field": "clip", "type": "nominal", "scale": {"domain": ["C1", "C2", "C3", "C4"], "range": ["#ff0000", "#00ff00", "#0000ff", "#ff00ff"]}, "legend": null}
        }
      },
      {
        "mark": {"type": "text", "text": "C", "fontSize": 18, "fontWeight": "bold", "align": "center", "baseline": "middle", "dx": -39, "dy": -17, "color": "#000000"},
        "encoding": {
          "x": {"datum": -1.5, "scale": {"domain": [-1.5, 2], "nice": false, "zero": false}, "axis": null},
          "y": {"datum": 50, "scale": {"domain": [20, 50], "nice": false, "zero": false}, "axis": null}
        }
      }
    ],
    "resolve": {"axis": {"x": "independent", "y": "independent"}}
  }
],
"resolve": {"scale": {"color": "independent"}, "legend": {"color": "independent"}},
"config": {
  "font": "Liberation Sans",
  "view": {"stroke": "#8c8c8c", "strokeWidth": 1},
  "axis": {"grid": false, "domain": false, "tickSize": -5, "tickColor": "#8c8c8c", "labelFontSize": 14, "labelColor": "#333333", "titleFontSize": 20, "titleFontWeight": "normal", "titleColor": "#333333", "labelPadding": 6},
  "axisX": {"labelPadding": 15, "titlePadding": 6},
  "legend": {"strokeColor": "#666666", "fillColor": "#ffffff", "padding": 5, "labelFontSize": 14, "labelColor": "#333333", "rowPadding": 3},
  "title": {"fontSize": 26, "fontWeight": "bold", "color": "#000000", "offset": -21, "baseline": "alphabetic", "frame": "group"}
}
}
